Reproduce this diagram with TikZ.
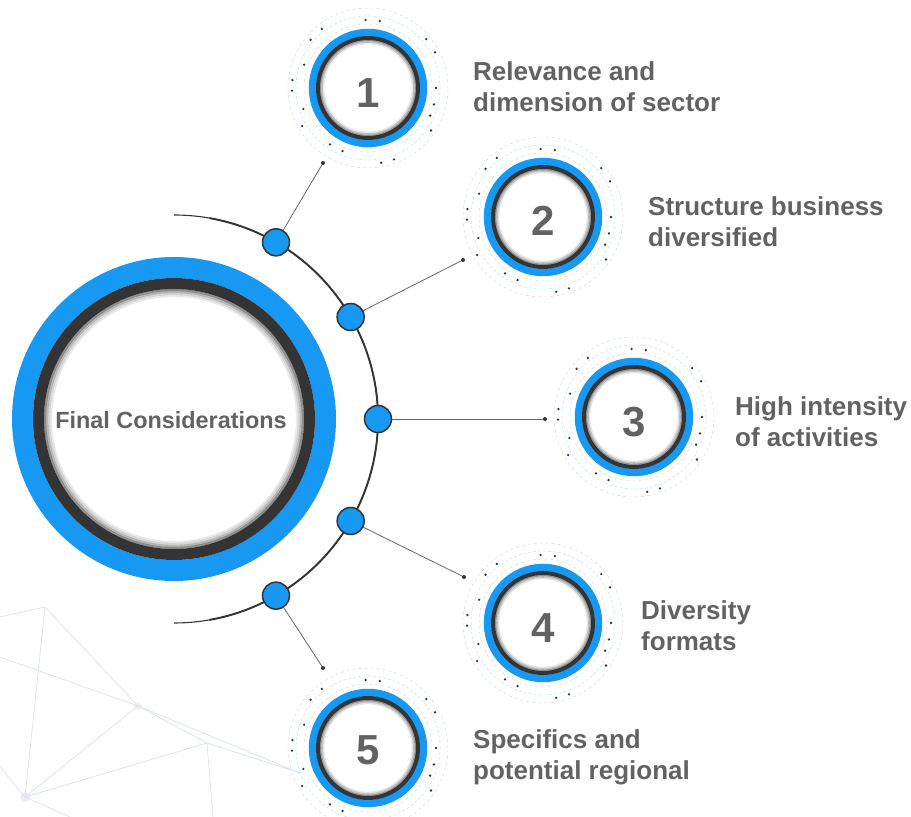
\documentclass[tikz,border=0pt]{standalone}
\usepackage{fontspec}
\setmainfont{Liberation Sans}
\usetikzlibrary{positioning}

\definecolor{ringblue}{RGB}{22,152,243}
\definecolor{ringdark}{RGB}{52,52,52}
\definecolor{labelgray}{RGB}{98,98,98}
\definecolor{netline}{RGB}{220,228,238}

\begin{document}
\begin{tikzpicture}[
    x=1pt, y=1pt,
    hubdot/.style={circle, fill=ringblue, draw=ringdark, line width=1.5pt, minimum size=27pt, inner sep=0pt},
    linkline/.style={draw=gray!80!black, line width=0.8pt},
    numlabel/.style={font=\bfseries\fontsize{42}{42}\selectfont, text=labelgray, inner sep=0pt},
    itemlabel/.style={font=\bfseries\fontsize{26}{31}\selectfont, text=labelgray, align=left, anchor=west, inner sep=0pt},
    netstyle/.style={draw=netline, line width=0.8pt}
]
    \useasboundingbox (0,0) rectangle (911,817);

    % Faint network in the background
    \coordinate (na) at (45,210);
    \coordinate (nb) at (138,111);
    \coordinate (nc) at (25,20);
    \coordinate (nd) at (207,74);
    \draw[netstyle] (0,200) -- (na) -- (nb) -- (nd) -- (nc) -- (na);
    \draw[netstyle] (nb) -- (nc) (nb) -- (300,44) (nd) -- (213,0) (0,160) -- (nb) (nc) -- (0,50) (nc) -- (70,0) (nd) -- (300,44);
    \fill[netline, opacity=0.6] (nc) circle (5) (nb) circle (4);

    % Define the centre circle
    \coordinate (cen) at (174,398);
    \draw[ringblue, line width=21pt] (cen) circle (151.5);
    \draw[ringdark, line width=11pt] (cen) circle (135.5);
    \foreach \r/\o in {129/0.55, 127/0.35, 125/0.2, 123/0.1}
        \draw[ringdark, opacity=\o, line width=2.2pt] (cen) circle (\r);
    \node[font=\bfseries\fontsize{23.4}{28}\selectfont, text=labelgray, inner sep=0pt] (title) at (171,397) {Final Considerations};

    % Arc around the centre circle
    \draw[ringdark, line width=1.1pt] ([shift={(90:204)}]cen) arc (90:-90:204);
    \draw[ringdark, line width=1.9pt] ([shift={(80:204)}]cen) arc (80:-80:204);

    % Define the small circles and the ends of the links
    \coordinate (c1) at (368,729);
    \coordinate (c2) at (543,600);
    \coordinate (c3) at (634,400);
    \coordinate (c4) at (543,194);
    \coordinate (c5) at (368,69);
    \coordinate (e1) at (323,654);
    \coordinate (e2) at (463,557);
    \coordinate (e3) at (545,398);
    \coordinate (e4) at (464,240);
    \coordinate (e5) at (323,149);

    % Links from the arc to the small circles
    \foreach \i/\a in {1/60, 2/30, 3/0, 4/-30, 5/-60} {
        \draw[linkline] ([shift={(\a:204)}]cen) -- (e\i);
        \fill[ringdark] (e\i) circle (2);
        \node[hubdot] (d\i) at ([shift={(\a:204)}]cen) {};
    }

    % Rings of the small circles
    \foreach \c in {c1, c2, c3, c4, c5} {
        \draw[gray!30, dashed, line width=0.5pt] (\c) circle (64);
        \draw[ringblue!25, densely dashed, line width=0.6pt] (\c) circle (72);
        \draw[gray!30, dashed, line width=0.5pt] (\c) circle (80);
        \foreach \a/\r in {28/76, 40/76, 80/68, 92/68, 128/75, 140/75, 160/68, 174/76, 182/76, 198/68, 210/76, 236/68, 248/68, 280/76, 290/76, 326/76, 336/68, 346/68, 0/68}
            \fill[ringdark] (\c) ++(\a:\r) circle (1.3);
        \draw[ringblue, line width=7.5pt] (\c) circle (55.5);
        \draw[ringdark, line width=4pt] (\c) circle (50);
        \foreach \r/\o in {47.5/0.5, 46/0.28, 44.5/0.12}
            \draw[ringdark, opacity=\o, line width=1.6pt] (\c) circle (\r);
    }

    % Numbers
    \node[numlabel] (n1) at ([yshift=-5]c1) {1};
    \node[numlabel] (n2) at ([yshift=-4]c2) {2};
    \node[numlabel] (n3) at ([yshift=-5]c3) {3};
    \node[numlabel] (n4) at ([yshift=-5]c4) {4};
    \node[numlabel] (n5) at ([yshift=-2]c5) {5};

    % Labels
    \node[itemlabel] (t1) at (473,730) {Relevance and\\dimension of sector};
    \node[itemlabel] (t2) at (648,595) {Structure business\\diversified};
    \node[itemlabel] (t3) at (735,395) {High intensity\\of activities};
    \node[itemlabel] (t4) at (641,191) {Diversity\\formats};
    \node[itemlabel] (t5) at (473,60) {Specifics and\\potential regional};

\end{tikzpicture}
\end{document}
